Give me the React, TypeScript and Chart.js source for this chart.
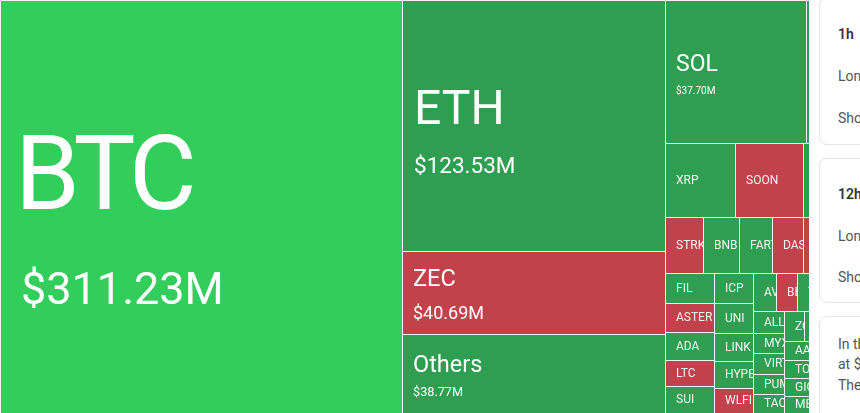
import React, { useEffect, useRef } from 'react';
import { Chart, registerables } from 'chart.js';

Chart.register(...registerables);

// ---- Data (liquidations in $M, sorted as in the treemap) ----
const coins = [
  'BTC', 'ETH', 'ZEC', 'Others', 'SOL', 'DOGE', 'XRP', 'SOON', 'BCH', 'STRK',
  'BNB', 'FARTCOIN', 'DASH', 'ENA', 'PEPE', 'FIL', 'ASTER', 'ADA', 'LTC', 'SUI',
  'ICP', 'UNI', 'LINK', 'HYPE', 'WLFI', 'AVAX', 'BERA', 'TRX', 'XPL', 'AVNT',
  'ALLO', 'MYX', 'VIRTUAL', 'PUMP', 'TAO', 'ZORA', 'WIF', 'TRUMP', 'XLM', 'AAVE',
  'TON', 'GIGGLE', 'MEW', 'ARB', 'OP', 'APT', 'NEAR', 'TIA', 'SEI', 'ONDO', 'CRV',
];
const liquidations = [
  311.23, 123.53, 40.69, 38.77, 37.7, 14.34, 9.77, 9.49, 7.85, 3.91,
  3.8, 3.46, 3.22, 3.05, 2.91, 2.73, 2.64, 2.52, 2.43, 2.39,
  2.16, 2.15, 2.04, 1.91, 1.77, 1.63, 1.52, 1.48, 1.45, 1.43,
  1.28, 1.24, 1.21, 1.2, 1.1, 1.09, 1.05, 1.03, 1.02, 1.0,
  0.99, 0.93, 0.89, 0.86, 0.84, 0.81, 0.79, 0.77, 0.75, 0.73, 0.71,
];
// 2 = strong up, 1 = up, -1 = down
const tones = [
  2, 1, -1, 1, 1, 1, 1, -1, 1, -1,
  1, 1, -1, -1, 1, 1, -1, 1, -1, 1,
  1, 1, 1, 1, -1, 1, -1, 1, 1, 1,
  1, 1, 1, 1, 1, 1, 1, 1, 1, 1,
  1, 1, 1, 1, 1, 1, 1, 1, 1, 1, 1,
];

// ---- Styles ----
const MAP_WIDTH = 860;
const MAP_HEIGHT = 413;
const SQUARE_RATIO = 0.5 * (1 + Math.sqrt(5));
const COLORS: Record<string, string> = { '2': '#32cd5a', '1': '#2f9e50', '-1': '#c1424a' };
const GAP_COLOR = '#f4f5f4';
const FONT = 'Roboto, "Noto Sans", sans-serif';
type LabelStyle = { name: number; value: number; nameDy: number; valueDy: number; pad: number; valuePad: number; spacing: number };
const labelStyles: Record<string, LabelStyle> = {
  BTC: { name: 104, value: 45, nameDy: 2, valueDy: 97, pad: 14, valuePad: 20, spacing: -5 },
  ETH: { name: 48, value: 22.5, nameDy: -1.7, valueDy: 47.3, pad: 11, valuePad: 11, spacing: 0 },
  ZEC: { name: 23.5, value: 18, nameDy: -7.3, valueDy: 25.7, pad: 10, valuePad: 10, spacing: 0 },
  Others: { name: 23.5, value: 12.7, nameDy: -1.7, valueDy: 21.7, pad: 10, valuePad: 10, spacing: 0 },
  SOL: { name: 23, value: 10, nameDy: -1.2, valueDy: 21.8, pad: 10, valuePad: 10, spacing: 0 },
};

type Rect = { x: number; y: number; w: number; h: number };

// echarts-like squarified layout
function squarify(values: number[], W: number, H: number, ratio: number): Rect[] {
  const total = values.reduce((a, b) => a + b, 0);
  const items = values
    .map((v, i) => ({ i, area: (v / total) * W * H }))
    .sort((a, b) => b.area - a.area);
  const rect = { x: 0, y: 0, w: W, h: H };
  const out: Rect[] = new Array(values.length);
  const worst = (row: { area: number }[], rowArea: number, L: number) => {
    let max = 0;
    let min = Infinity;
    for (const r of row) {
      max = Math.max(max, r.area);
      min = Math.min(min, r.area);
    }
    const sq = rowArea * rowArea;
    const f = L * L * ratio;
    return sq ? Math.max((f * max) / sq, sq / (f * min)) : Infinity;
  };
  const position = (row: { i: number; area: number }[], rowArea: number, L: number, flush: boolean) => {
    const horizontal = L === rect.w;
    let other = L ? rowArea / L : 0;
    const avail = horizontal ? rect.h : rect.w;
    if (flush || other > avail) other = avail;
    let last = horizontal ? rect.x : rect.y;
    const end = horizontal ? rect.x + rect.w : rect.y + rect.h;
    row.forEach((r, k) => {
      const step = other ? r.area / other : 0;
      const remain = end - last;
      const len = k === row.length - 1 || remain < step ? remain : step;
      out[r.i] = horizontal
        ? { x: last, y: rect.y, w: len, h: other }
        : { x: rect.x, y: last, w: other, h: len };
      last += len;
    });
    if (horizontal) {
      rect.y += other;
      rect.h -= other;
    } else {
      rect.x += other;
      rect.w -= other;
    }
  };
  let row: { i: number; area: number }[] = [];
  let rowArea = 0;
  let best = Infinity;
  let fixed = Math.min(rect.w, rect.h);
  for (let i = 0; i < items.length; ) {
    const it = items[i];
    row.push(it);
    rowArea += it.area;
    const score = worst(row, rowArea, fixed);
    if (score <= best) {
      i++;
      best = score;
    } else {
      rowArea -= row.pop()!.area;
      position(row, rowArea, fixed, false);
      fixed = Math.min(rect.w, rect.h);
      row = [];
      rowArea = 0;
      best = Infinity;
    }
  }
  if (row.length) position(row, rowArea, fixed, true);
  return out;
}

const treemapPlugin = {
  id: 'treemapCells',
  beforeDatasetsDraw(chart: any) {
    const { ctx, chartArea } = chart;
    const xs = chart.scales.x;
    const ys = chart.scales.y;
    const layout = squarify(liquidations, MAP_WIDTH, MAP_HEIGHT, SQUARE_RATIO);
    ctx.save();
    ctx.fillStyle = GAP_COLOR;
    ctx.fillRect(chartArea.left, chartArea.top, chartArea.width, chartArea.height);
    layout.forEach((r, i) => {
      const x0 = xs.getPixelForValue(r.x);
      const x1 = xs.getPixelForValue(r.x + r.w);
      const y0 = ys.getPixelForValue(r.y);
      const y1 = ys.getPixelForValue(r.y + r.h);
      const L = Math.floor(x0) + 1;
      const T = Math.floor(y0) + 1;
      const R = Math.floor(x1);
      const B = Math.floor(y1);
      if (R <= L || B <= T) return;
      ctx.fillStyle = COLORS[String(tones[i])];
      ctx.fillRect(L, T, R - L, B - T);
      ctx.save();
      ctx.beginPath();
      ctx.rect(L, T, R - L, B - T);
      ctx.clip();
      const cy = (T + B) / 2;
      const st = labelStyles[coins[i]];
      ctx.textAlign = 'left';
      ctx.textBaseline = 'alphabetic';
      if (st) {
        ctx.fillStyle = '#ffffff';
        ctx.font = `${st.name}px ${FONT}`;
        if ('letterSpacing' in ctx) (ctx as any).letterSpacing = `${st.spacing}px`;
        ctx.fillText(coins[i], L + st.pad, cy + st.nameDy);
        if ('letterSpacing' in ctx) (ctx as any).letterSpacing = '0px';
        ctx.font = `${st.value}px ${FONT}`;
        ctx.fillText(`$${liquidations[i].toFixed(2)}M`, L + st.valuePad, cy + st.valueDy);
      } else {
        ctx.fillStyle = 'rgba(255,255,255,0.92)';
        ctx.font = `12px ${FONT}`;
        ctx.fillText(coins[i], L + 10, cy + 3.3);
      }
      ctx.restore();
    });
    ctx.restore();
  },
};

const cardStyle: React.CSSProperties = {
  position: 'absolute',
  left: 10,
  width: 260,
  background: '#fff',
  border: '1px solid #e3e5e8',
  borderRadius: 8,
  boxSizing: 'border-box',
};
const lineStyle = (top: number, bold = false): React.CSSProperties => ({
  position: 'absolute',
  left: 18,
  top,
  fontSize: 14,
  lineHeight: '20px',
  whiteSpace: 'nowrap',
  color: bold ? '#333' : '#555',
  fontWeight: bold ? 600 : 400,
});

export default function App() {
  const canvasRef = useRef<HTMLCanvasElement | null>(null);
  useEffect(() => {
    document.body.style.margin = '0';
    const chart = new Chart(canvasRef.current!, {
      type: 'scatter',
      data: { datasets: [{ data: [] }] },
      options: {
        animation: false,
        responsive: true,
        maintainAspectRatio: false,
        layout: { padding: 0 },
        plugins: { legend: { display: false }, tooltip: { enabled: false } },
        scales: {
          x: { type: 'linear', min: 0, max: MAP_WIDTH, display: false },
          y: { type: 'linear', min: 0, max: MAP_HEIGHT, reverse: true, display: false },
        },
      },
      plugins: [treemapPlugin],
    });
    return () => chart.destroy();
  }, []);

  return (
    <div style={{ position: 'fixed', left: 0, top: 0, width: 860, height: 413, overflow: 'hidden', fontFamily: FONT, background: '#fff' }}>
      <div style={{ position: 'absolute', left: 0, top: 0, width: MAP_WIDTH, height: MAP_HEIGHT }}>
        <canvas ref={canvasRef} />
      </div>
      <div style={{ position: 'absolute', left: 809, top: 0, width: 51, height: 413, background: '#fff', overflow: 'hidden' }}>
        <div style={{ ...cardStyle, top: -2, height: 147 }}>
          <div style={lineStyle(25, true)}>1h</div>
          <div style={lineStyle(67)}>Long</div>
          <div style={lineStyle(109)}>Short</div>
        </div>
        <div style={{ ...cardStyle, top: 158, height: 145 }}>
          <div style={lineStyle(25, true)}>12h Rekt</div>
          <div style={lineStyle(67)}>Long</div>
          <div style={lineStyle(108)}>Short</div>
        </div>
        <div style={{ ...cardStyle, top: 316, height: 130 }}>
          <div style={lineStyle(17, false)}>In the past 24 hours</div>
          <div style={lineStyle(37, false)}>at $</div>
          <div style={lineStyle(58, false)}>The</div>
        </div>
      </div>
    </div>
  );
}
